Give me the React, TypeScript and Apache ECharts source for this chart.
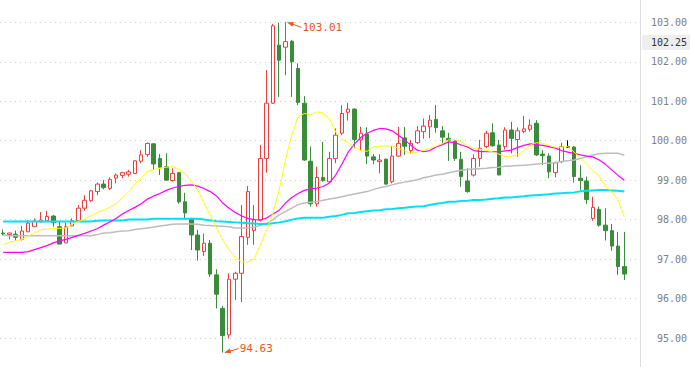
import React, { useEffect, useRef } from "react";
import * as echarts from "echarts";

const categories: string[] = Array.from({ length: 102 }, (_, i) => String(i + 1));

const opens = [97.66, 97.62, 97.63, 97.50, 97.69, 97.82, 97.94, 97.97, 98.09, 97.82,
  97.41, 97.84, 97.97, 98.29, 98.48, 98.71, 98.90, 98.79, 99.05, 99.12,
  99.15, 99.17, 99.48, 99.65, 99.92, 99.55, 99.34, 98.99, 99.19, 98.45,
  98.03, 97.61, 97.19, 97.40, 96.60, 95.75, 95.08, 96.49, 96.64, 97.55,
  97.72, 97.99, 99.55, 100.95, 102.42, 102.37, 102.52, 101.83, 100.95, 99.48,
  98.40, 99.07, 98.96, 99.55, 100.19, 100.72, 100.80, 100.02, 100.17, 99.59,
  99.47, 99.53, 98.96, 99.61, 100.07, 99.75, 99.95, 100.23, 100.35, 100.54,
  100.25, 100.06, 99.99, 99.53, 98.98, 99.13, 99.55, 99.85, 100.20, 99.89,
  99.85, 100.27, 100.03, 100.23, 100.29, 100.44, 99.66, 99.61, 99.19, 99.47,
  99.84, 99.84, 99.05, 98.98, 98.03, 98.26, 97.86, 97.72, 97.33, 96.81];
const closes = [97.64, 97.66, 97.55, 97.71, 97.91, 97.96, 97.99, 98.08, 97.92, 97.38,
  97.82, 97.97, 98.29, 98.49, 98.73, 98.90, 98.81, 99.02, 99.13, 99.19,
  99.21, 99.49, 99.64, 99.93, 99.41, 99.33, 99.00, 99.17, 98.45, 98.17,
  97.61, 97.23, 97.40, 96.62, 96.11, 95.06, 96.49, 96.64, 97.57, 98.71,
  98.00, 99.55, 100.95, 102.91, 102.04, 102.51, 102.00, 100.97, 99.51, 98.40,
  99.07, 98.99, 99.55, 100.14, 100.69, 100.80, 100.03, 100.19, 99.61, 99.51,
  99.51, 98.90, 99.61, 99.93, 99.86, 99.93, 100.25, 100.37, 100.52, 100.33,
  100.09, 100.01, 99.55, 99.09, 98.71, 99.55, 99.81, 100.19, 99.87, 99.13,
  100.27, 100.06, 100.25, 100.30, 100.39, 99.64, 99.62, 99.21, 99.44, 99.85,
  99.84, 99.09, 98.99, 98.51, 98.31, 97.86, 97.72, 97.33, 96.81, 96.62];
const lows = [97.60, 97.50, 97.47, 97.47, 97.69, 97.82, 97.94, 97.97, 97.82, 97.38,
  97.41, 97.84, 97.95, 98.23, 98.45, 98.62, 98.77, 98.75, 98.92, 99.05,
  99.09, 99.16, 99.43, 99.59, 99.26, 99.13, 99.00, 98.96, 98.40, 98.01,
  97.23, 96.96, 97.08, 96.55, 95.75, 94.63, 94.99, 95.96, 95.91, 97.36,
  97.36, 97.95, 99.19, 100.93, 101.11, 101.66, 101.11, 100.90, 99.49, 98.33,
  98.33, 98.96, 98.94, 99.43, 100.14, 100.51, 99.81, 99.76, 99.41, 99.41,
  99.17, 98.88, 98.92, 99.59, 99.64, 99.68, 99.92, 100.05, 100.06, 100.20,
  99.93, 99.49, 99.49, 98.83, 98.68, 99.09, 99.34, 99.81, 99.85, 99.13,
  99.78, 99.68, 99.59, 100.19, 100.23, 99.61, 99.38, 99.05, 99.07, 99.43,
  99.82, 98.94, 98.75, 98.40, 97.97, 97.82, 97.47, 97.21, 96.60, 96.47];
const highs = [97.75, 97.67, 97.72, 97.84, 97.99, 98.03, 98.19, 98.22, 98.12, 97.94,
  97.92, 98.03, 98.37, 98.62, 98.75, 98.94, 99.00, 99.07, 99.17, 99.21,
  99.26, 99.51, 99.76, 99.95, 99.93, 99.66, 99.68, 99.30, 99.21, 98.68,
  98.03, 97.74, 97.65, 97.48, 96.74, 95.81, 96.64, 96.68, 98.37, 98.85,
  98.37, 99.89, 101.79, 102.96, 102.99, 103.01, 102.55, 101.96, 101.13, 99.85,
  99.34, 99.97, 99.72, 100.31, 100.90, 100.96, 100.82, 100.35, 100.34, 99.66,
  99.66, 99.55, 99.87, 100.35, 100.35, 100.02, 100.37, 100.56, 100.65, 100.90,
  100.37, 100.20, 100.00, 99.72, 99.30, 99.66, 100.02, 100.25, 100.44, 100.02,
  100.34, 100.48, 100.34, 100.63, 100.54, 100.52, 99.76, 99.68, 99.47, 99.95,
  100.01, 99.86, 99.38, 99.09, 98.58, 98.33, 98.29, 97.89, 97.69, 97.69];

const maYellow = [97.36, 97.43, 97.46, 97.50, 97.58, 97.66, 97.74, 97.76, 97.77, 97.78,
  97.79, 97.89, 97.95, 98.02, 98.09, 98.18, 98.24, 98.31, 98.40, 98.55,
  98.70, 98.90, 99.05, 99.22, 99.27, 99.30, 99.33, 99.34, 99.28, 99.16,
  98.98, 98.75, 98.42, 98.12, 97.79, 97.48, 97.23, 97.05, 96.93, 96.93,
  97.00, 97.36, 97.74, 98.17, 98.75, 99.51, 100.14, 100.60, 100.69, 100.66,
  100.73, 100.70, 100.55, 100.22, 100.04, 99.94, 99.84, 99.75, 99.73, 99.84,
  99.86, 99.87, 99.86, 99.81, 99.74, 99.68, 99.71, 99.76, 99.81, 99.86,
  99.93, 100.02, 100.03, 99.97, 99.87, 99.80, 99.78, 99.76, 99.71, 99.66,
  99.60, 99.61, 99.64, 99.75, 99.89, 99.95, 99.93, 99.88, 99.83, 99.84,
  99.85, 99.71, 99.56, 99.41, 99.24, 99.10, 98.85, 98.70, 98.50, 98.07];
const maMagenta = [97.17, 97.17, 97.17, 97.17, 97.19, 97.24, 97.29, 97.34, 97.41, 97.46,
  97.50, 97.55, 97.60, 97.65, 97.71, 97.77, 97.86, 97.94, 98.03, 98.14,
  98.23, 98.31, 98.40, 98.52, 98.60, 98.66, 98.74, 98.80, 98.84, 98.87,
  98.88, 98.85, 98.79, 98.71, 98.60, 98.42, 98.29, 98.18, 98.09, 98.03,
  98.00, 97.99, 98.04, 98.14, 98.24, 98.42, 98.56, 98.66, 98.74, 98.78,
  98.80, 98.84, 98.93, 99.13, 99.41, 99.71, 99.92, 100.08, 100.19, 100.26,
  100.31, 100.30, 100.25, 100.14, 100.02, 99.88, 99.76, 99.72, 99.75, 99.84,
  99.90, 99.97, 99.95, 99.89, 99.84, 99.75, 99.73, 99.72, 99.72, 99.72,
  99.74, 99.76, 99.83, 99.88, 99.92, 99.90, 99.88, 99.85, 99.81, 99.75,
  99.71, 99.68, 99.64, 99.61, 99.59, 99.51, 99.40, 99.26, 99.12, 99.00];
const maGrey = [97.61, 97.59, 97.59, 97.59, 97.59, 97.59, 97.59, 97.59, 97.59, 97.59,
  97.59, 97.59, 97.59, 97.59, 97.59, 97.62, 97.66, 97.67, 97.69, 97.71,
  97.72, 97.75, 97.77, 97.79, 97.81, 97.84, 97.86, 97.88, 97.89, 97.89,
  97.89, 97.88, 97.86, 97.85, 97.84, 97.83, 97.82, 97.79, 97.79, 97.79,
  97.81, 97.85, 97.91, 98.00, 98.12, 98.21, 98.29, 98.38, 98.42, 98.44,
  98.46, 98.49, 98.52, 98.55, 98.58, 98.62, 98.65, 98.68, 98.71, 98.76,
  98.81, 98.84, 98.88, 98.92, 98.95, 98.98, 99.01, 99.06, 99.09, 99.13,
  99.15, 99.19, 99.22, 99.25, 99.27, 99.28, 99.29, 99.30, 99.32, 99.33,
  99.35, 99.36, 99.37, 99.38, 99.39, 99.41, 99.42, 99.43, 99.44, 99.47,
  99.49, 99.51, 99.55, 99.59, 99.64, 99.67, 99.68, 99.68, 99.68, 99.63];
const maCyan = [97.95, 97.95, 97.95, 97.95, 97.95, 97.95, 97.95, 97.95, 97.95, 97.95,
  97.95, 97.95, 97.95, 97.95, 97.95, 97.97, 97.98, 97.98, 97.98, 97.98,
  98.00, 98.00, 98.00, 98.00, 98.02, 98.02, 98.02, 98.02, 98.02, 98.02,
  98.02, 98.02, 98.00, 97.98, 97.96, 97.95, 97.94, 97.93, 97.92, 97.91,
  97.90, 97.89, 97.89, 97.91, 97.93, 97.96, 98.00, 98.03, 98.05, 98.05,
  98.05, 98.05, 98.07, 98.09, 98.12, 98.16, 98.17, 98.19, 98.21, 98.23,
  98.24, 98.26, 98.27, 98.29, 98.30, 98.32, 98.33, 98.34, 98.37, 98.40,
  98.42, 98.45, 98.45, 98.47, 98.48, 98.50, 98.50, 98.51, 98.53, 98.54,
  98.56, 98.56, 98.58, 98.59, 98.61, 98.62, 98.63, 98.64, 98.66, 98.67,
  98.68, 98.69, 98.72, 98.73, 98.74, 98.75, 98.75, 98.74, 98.73, 98.71];

const yTicks = { min: 95, max: 103, step: 1 };
const lastPriceTag = ["102.25"];

const UP = "#e8403f";
const DOWN = "#3a8c3a";
const MARK = "#e8561c";
const MONO = "'DejaVu Sans Mono', 'Liberation Mono', monospace";

export default function App() {
  const ref = useRef<HTMLDivElement>(null);
  useEffect(() => {
    document.body.style.margin = "0";
    const chart = echarts.init(ref.current!, undefined, { renderer: "svg" });
    const candle = opens.map((o, i) => [o, closes[i], lows[i], highs[i]]);
    const line = (name: string, data: number[], color: string, width: number, z: number) => ({
      name, type: "line", data, showSymbol: false, symbol: "none", smooth: false,
      lineStyle: { color, width }, z, silent: true, clip: false,
    });
    chart.setOption({
      animation: false,
      grid: { left: 0, right: 50, top: 22.3, bottom: 29, containLabel: false, outerBoundsMode: "none" },
      xAxis: {
        type: "category", data: categories, boundaryGap: true,
        axisLine: { show: false }, axisTick: { show: false }, axisLabel: { show: false },
        splitLine: { show: false },
      },
      yAxis: {
        type: "value", position: "right", min: yTicks.min, max: yTicks.max, interval: yTicks.step,
        axisLine: { show: false },
        axisTick: { show: false },
        axisLabel: {
          formatter: (v: number) => v.toFixed(2), align: "right", margin: 47,
          color: "#808080", fontFamily: MONO, fontSize: 10,
        },
        splitLine: { show: true, lineStyle: { color: "#cccccc", type: [1, 4], width: 1 } },
      },
      series: [
        {
          type: "candlestick", data: candle, barWidth: 4, z: 2, clip: false,
          itemStyle: {
            color: "#ffffff", color0: DOWN, borderColor: UP, borderColor0: DOWN,
            borderColorDoji: "#000000", borderWidth: 1,
          },
        },
        line("grey", maGrey, "#bdbdbd", 1.5, 3),
        line("cyan", maCyan, "#00e0f0", 2, 3),
        line("magenta", maMagenta, "#ff00ff", 1.2, 4),
        line("yellow", maYellow, "#ffff00", 1, 5),
      ],
    });

    let hi = 0, lo = 0;
    highs.forEach((h, i) => { if (h > highs[hi]) hi = i; });
    lows.forEach((l, i) => { if (l < lows[lo]) lo = i; });
    const hp = chart.convertToPixel({ gridIndex: 0 }, [hi, highs[hi]]) as number[];
    const lp = chart.convertToPixel({ gridIndex: 0 }, [lo, lows[lo]]) as number[];

    const arrow = (tx: number, ty: number, dx: number, dy: number, text: string) => {
      const len = Math.hypot(dx, dy);
      const ux = dx / len, uy = dy / len;
      const nx = -uy, ny = ux;
      const bx = tx + ux * 6, by = ty + uy * 6;
      return [
        { type: "polygon", shape: { points: [[tx, ty], [bx + nx * 2.5, by + ny * 2.5], [bx - nx * 2.5, by - ny * 2.5]] }, style: { fill: MARK }, z: 10 },
        { type: "line", shape: { x1: tx, y1: ty, x2: tx + dx, y2: ty + dy }, style: { stroke: MARK, lineWidth: 1 }, z: 10 },
        { type: "text", x: tx + dx + 1, y: ty + dy, style: { text, fill: MARK, font: `11px ${MONO}`, verticalAlign: "middle", align: "left" }, z: 10 },
      ];
    };

    chart.setOption({
      graphic: [
        { type: "line", shape: { x1: 640.5, y1: 0, x2: 640.5, y2: 367 }, style: { stroke: "#dddddd", lineWidth: 1 }, z: 1 },
        ...arrow(hp[0] + 2, hp[1] + 0.5, 14, 5, highs[hi].toFixed(2)),
        ...arrow(lp[0] + 2, lp[1], 14, -4, lows[lo].toFixed(2)),
        { type: "rect", shape: { x: 642, y: 35, width: 48, height: 15 }, style: { fill: "#eeeeee" }, z: 10 },
        { type: "text", x: 687, y: 42.5, style: { text: lastPriceTag[0], fill: "#333333", font: `10px ${MONO}`, align: "right", verticalAlign: "middle" }, z: 11 },
      ],
    });
    return () => chart.dispose();
  }, []);
  return <div ref={ref} style={{ width: 690, height: 367 }} />;
}
